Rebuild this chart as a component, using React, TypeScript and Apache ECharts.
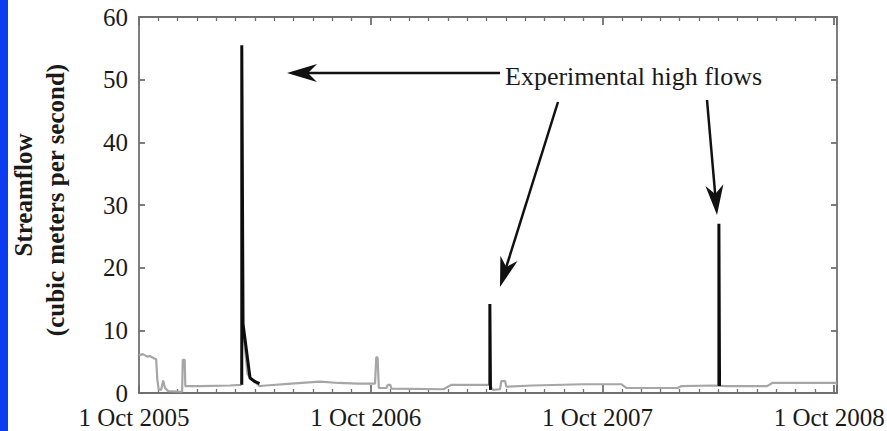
import React, { useEffect, useRef } from "react";
import * as echarts from "echarts";

// Tick labels
const yearTicks = [0, 1, 2, 3];
const yearLabels = ["1 Oct 2005", "1 Oct 2006", "1 Oct 2007", "1 Oct 2008"];

// Gray series: daily streamflow (date, m3/s)
const baseDates = [
  "2005-10-01", "2005-10-07", "2005-10-14", "2005-10-18", "2005-10-25", "2005-10-28",
  "2005-10-30", "2005-11-01", "2005-11-05", "2005-11-08", "2005-11-11", "2005-11-16",
  "2005-12-08", "2005-12-09", "2005-12-12", "2005-12-13", "2006-01-05", "2006-02-21",
  "2006-03-11", "2006-03-13", "2006-03-16", "2006-03-21", "2006-03-27", "2006-04-03",
  "2006-04-09", "2006-04-19", "2006-05-29", "2006-07-13", "2006-08-12", "2006-09-11",
  "2006-10-08", "2006-10-10", "2006-10-12", "2006-10-14", "2006-10-26", "2006-10-28",
  "2006-11-01", "2006-11-03", "2007-01-24", "2007-02-05", "2007-04-06", "2007-04-12",
  "2007-04-23", "2007-04-25", "2007-05-01", "2007-05-03", "2007-06-13", "2007-09-01",
  "2007-10-31", "2007-11-08", "2008-01-28", "2008-02-03", "2008-03-24", "2008-04-13",
  "2008-06-17", "2008-06-25", "2008-10-05"
];
const baseFlow = [
  6.0, 6.2, 5.8, 5.9, 5.5, 5.4,
  2.0, 0.6, 0.5, 2.0, 0.8, 0.3,
  0.2, 5.3, 5.3, 1.1, 1.1, 1.2,
  1.3, 12.0, 8.0, 3.0, 2.2, 1.6,
  1.1, 1.2, 1.5, 1.8, 1.6, 1.5,
  1.5, 5.7, 5.7, 0.8, 0.8, 1.3,
  1.3, 0.7, 0.6, 1.3, 1.3, 0.5,
  0.6, 1.9, 1.9, 1.0, 1.2, 1.4,
  1.4, 0.8, 0.8, 1.1, 1.2, 1.1,
  1.1, 1.6, 1.6
];

// Black series: experimental high flows
const highDates = [
  "2006-03-12", "2006-03-12", "2006-03-14", "2006-03-25", "2006-04-02", "2006-04-09",
  null,
  "2007-04-07", "2007-04-07", "2007-04-08",
  null,
  "2008-04-02", "2008-04-02", "2008-04-03"
];
const highFlow = [
  1.3, 55.5, 11.0, 2.4, 1.8, 1.5,
  null,
  1.3, 14.2, 0.5,
  null,
  1.2, 27.0, 1.1
];

const ORIGIN = Date.UTC(2005, 9, 1);
function toYears(d: string): number {
  const [y, m, dd] = d.split("-").map(Number);
  return (Date.UTC(y, m - 1, dd) - ORIGIN) / (86400000 * 365.25);
}

function arrow(x1: number, y1: number, x2: number, y2: number) {
  const dx = x2 - x1, dy = y2 - y1;
  const len = Math.sqrt(dx * dx + dy * dy);
  const ux = dx / len, uy = dy / len;
  const px = -uy, py = ux;
  const L = 30, W = 9, N = 21;
  const bx = x2 - L * ux, by = y2 - L * uy;
  const nx = x2 - N * ux, ny = y2 - N * uy;
  return [
    {
      type: "line",
      shape: { x1, y1, x2: nx, y2: ny },
      style: { stroke: "#111", lineWidth: 2.5 },
      silent: true,
    },
    {
      type: "polygon",
      shape: {
        points: [
          [x2, y2],
          [bx + W * px, by + W * py],
          [nx, ny],
          [bx - W * px, by - W * py],
        ],
      },
      style: { fill: "#111" },
      silent: true,
    },
  ];
}

export default function App() {
  const ref = useRef<HTMLDivElement>(null);
  useEffect(() => {
    if (!ref.current) return;
    const chart = echarts.init(ref.current, null, { renderer: "svg" });
    const font = "'Liberation Serif', 'Times New Roman', serif";
    const frame = { color: "#707070", width: 1.8 };
    const xCommon = {
      type: "value",
      min: 0,
      max: 3.012,
      interval: 1,
      axisLine: { show: true, onZero: false, lineStyle: frame },
      axisTick: { show: true, inside: true, length: 8, lineStyle: frame },
      minorTick: { show: true, splitNumber: 12, length: 4, lineStyle: { color: "#707070", width: 1.3 } },
      splitLine: { show: false },
      minorSplitLine: { show: false },
    };
    const yCommon = {
      type: "value",
      min: 0,
      max: 60,
      interval: 10,
      axisLine: { show: true, onZero: false, lineStyle: frame },
      axisTick: { show: true, inside: true, length: 6, lineStyle: frame },
      splitLine: { show: false },
    };
    const option: any = {
      animation: false,
      backgroundColor: "#fff",
      grid: { left: 139, right: 50, top: 17, bottom: 38, containLabel: false, outerBoundsMode: "none" },
      xAxis: [
        {
          ...xCommon,
          position: "bottom",
          axisLabel: {
            show: true,
            margin: 12,
            color: "#1a1a1a",
            fontFamily: font,
            fontSize: 25,
            padding: [0, 10, 0, 0],
            formatter: (v: number) => {
              const i = yearTicks.indexOf(Math.round(v));
              return i >= 0 ? yearLabels[i] : "";
            },
          },
        },
        { ...xCommon, position: "top", axisLabel: { show: false } },
      ],
      yAxis: [
        {
          ...yCommon,
          position: "left",
          axisLabel: { show: true, margin: 11, color: "#1a1a1a", fontFamily: font, fontSize: 25 },
        },
        { ...yCommon, position: "right", axisLabel: { show: false } },
      ],
      series: [
        {
          name: "Streamflow",
          type: "line",
          xAxisIndex: 0,
          yAxisIndex: 0,
          symbol: "none",
          lineStyle: { color: "#a6a6a6", width: 2.2 },
          data: baseDates.map((d, i) => [toYears(d), baseFlow[i]]),
          z: 2,
        },
        {
          name: "Experimental high flows",
          type: "line",
          xAxisIndex: 0,
          yAxisIndex: 0,
          symbol: "none",
          connectNulls: false,
          lineStyle: { color: "#0d0d0d", width: 3 },
          data: highDates.map((d, i) => (d === null ? [null, null] : [toYears(d), highFlow[i]])),
          z: 3,
        },
      ],
      graphic: [
        { type: "rect", shape: { x: 0, y: 0, width: 8, height: 431 }, style: { fill: "#0b3cf2" }, silent: true },
        {
          type: "text",
          x: 23,
          y: 195,
          rotation: Math.PI / 2,
          style: {
            text: "Streamflow",
            font: `bold 25px ${font}`,
            fill: "#1a1a1a",
            textAlign: "center",
            textVerticalAlign: "middle",
          },
          silent: true,
        },
        {
          type: "text",
          x: 55,
          y: 200,
          rotation: Math.PI / 2,
          style: {
            text: "(cubic meters per second)",
            font: `bold 25px ${font}`,
            fill: "#1a1a1a",
            textAlign: "center",
            textVerticalAlign: "middle",
          },
          silent: true,
        },
        {
          type: "text",
          x: 505,
          y: 76,
          style: {
            text: "Experimental high flows",
            font: `26px ${font}`,
            fill: "#1a1a1a",
            textAlign: "left",
            textVerticalAlign: "middle",
          },
          silent: true,
        },
        ...arrow(500, 73, 287, 73),
        ...arrow(558, 102, 500, 287),
        ...arrow(707, 100, 717, 215),
      ],
    };
    chart.setOption(option);
    return () => chart.dispose();
  }, []);
  return (
    <div style={{ position: "fixed", left: 0, top: 0, width: 887, height: 431, background: "#fff" }}>
      <div ref={ref} style={{ width: 887, height: 431 }} />
    </div>
  );
}
